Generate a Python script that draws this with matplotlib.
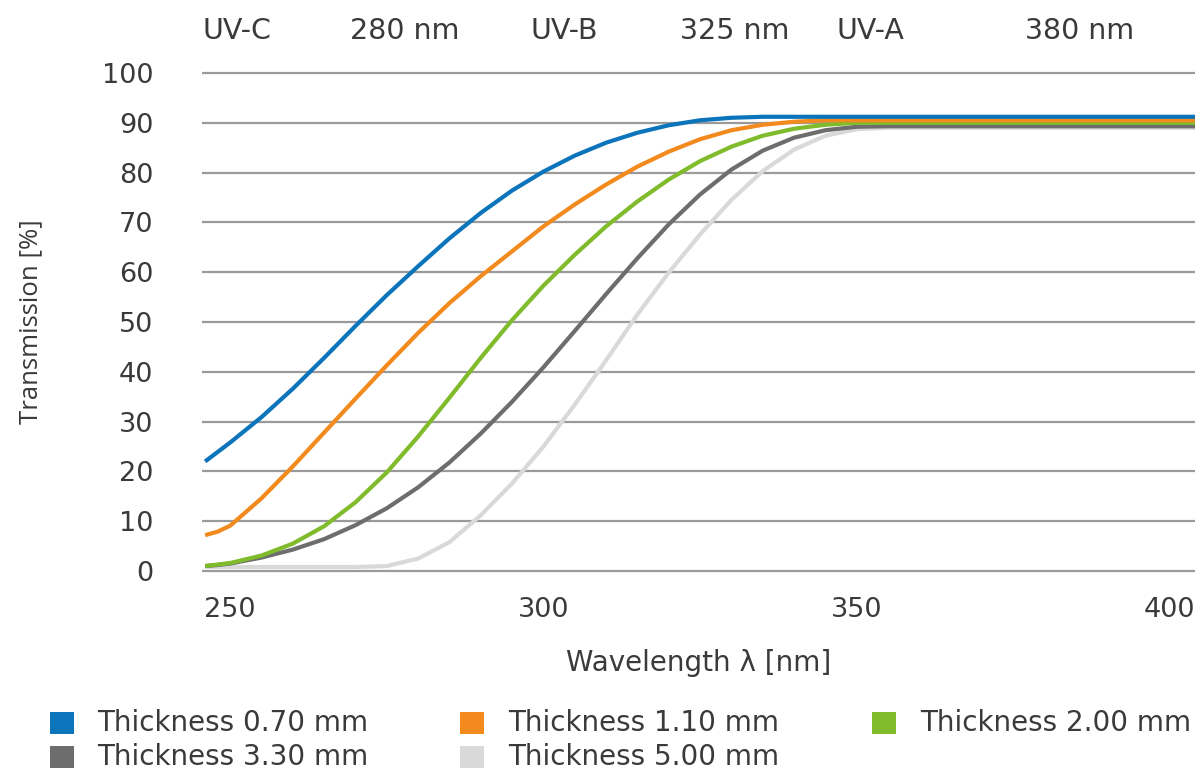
import matplotlib
matplotlib.use("Agg")
import matplotlib.pyplot as plt
import matplotlib.transforms as mtransforms
from matplotlib.patches import Rectangle

plt.rcParams['font.family'] = ['DejaVu Sans']

# ---- data ----
wavelength = [246, 248, 250, 255, 260, 265, 270, 275, 280, 285, 290, 295, 300, 305, 310,
              315, 320, 325, 330, 335, 340, 345, 350, 355, 360, 380, 404]

t_070 = [22.0, 23.9, 25.8, 30.9, 36.6, 42.8, 49.2, 55.4, 61.2, 66.8, 71.9, 76.4, 80.2, 83.4, 86.0,
         88.0, 89.5, 90.5, 91.0, 91.2, 91.2, 91.2, 91.2, 91.2, 91.2, 91.2, 91.2]
t_110 = [7.2, 7.9, 9.1, 14.6, 21.0, 27.8, 34.6, 41.3, 47.8, 53.8, 59.2, 64.2, 69.2, 73.6, 77.6,
         81.2, 84.2, 86.7, 88.5, 89.6, 90.2, 90.5, 90.5, 90.5, 90.5, 90.5, 90.5]
t_200 = [1.0, 1.3, 1.6, 3.1, 5.5, 9.0, 13.8, 19.8, 27.0, 34.8, 42.8, 50.4, 57.3, 63.5, 69.2,
         74.2, 78.6, 82.3, 85.2, 87.4, 88.8, 89.6, 90.0, 90.0, 90.0, 90.0, 90.0]
t_330 = [1.0, 1.2, 1.5, 2.7, 4.3, 6.4, 9.2, 12.6, 16.8, 21.8, 27.6, 34.0, 40.9, 48.2, 55.6,
         62.8, 69.6, 75.6, 80.6, 84.4, 87.0, 88.5, 89.2, 89.3, 89.3, 89.3, 89.3]
t_500 = [0.8, 0.8, 0.8, 0.8, 0.8, 0.8, 0.8, 1.0, 2.5, 5.8, 11.2, 17.6, 25.0, 33.4, 42.3,
         51.5, 59.9, 67.6, 74.5, 80.3, 84.6, 87.4, 88.7, 89.0, 89.0, 89.0, 89.0]

series_labels = ["Thickness 0.70 mm", "Thickness 1.10 mm", "Thickness 2.00 mm",
                 "Thickness 3.30 mm", "Thickness 5.00 mm"]
series_values = [t_070, t_110, t_200, t_330, t_500]
series_colors = ["#0b74bb", "#f28a1e", "#7fbb2b", "#6d6d6d", "#d9d9d9"]

x_ticks = [250, 300, 350, 400]
y_ticks = [0, 10, 20, 30, 40, 50, 60, 70, 80, 90, 100]
band_labels = ["UV-C", "280 nm", "UV-B", "325 nm", "UV-A", "380 nm"]
band_label_x = [251.0, 277.9, 303.3, 330.5, 352.2, 385.6]

text_color = "#3a3a3a"
W, H = 1201, 769

fig = plt.figure(figsize=(W / 100, H / 100), dpi=100)
ax = fig.add_axes([0.1682, 0.2510, 0.8268, 0.6606])

ax.set_xlim(245.5, 404)
ax.set_ylim(-1, 101)

for yt in y_ticks:
    ax.axhline(yt, color="#9a9a9a", lw=1.6, zorder=1)

# lightest first so darker/upper lines sit on top at the plateau
for i in [4, 3, 2, 1, 0]:
    ax.plot(wavelength, series_values[i], color=series_colors[i], lw=3.0,
            solid_capstyle="butt", solid_joinstyle="round", zorder=2 + (4 - i))

for s in ax.spines.values():
    s.set_visible(False)
ax.set_xticks(x_ticks)
ax.set_yticks(y_ticks)
ax.tick_params(length=0, labelsize=19.5, colors=text_color)
ax.tick_params(axis='y', pad=35)
ax.tick_params(axis='x', pad=15)

ax.set_xlabel("Wavelength λ [nm]", fontsize=20, color=text_color, labelpad=19)
ax.set_ylabel("Transmission [%]", fontsize=18.5, color=text_color, labelpad=42,
              family=["Open Sans", "DejaVu Sans"])

band_tr = mtransforms.blended_transform_factory(ax.transData, fig.transFigure)
for lbl, xp in zip(band_labels, band_label_x):
    ax.text(xp, 1 - 31 / H, lbl, transform=band_tr, ha="center", va="center",
            fontsize=20.5, color=text_color)

# legend drawn in figure pixel coordinates: rows 0.70/1.10/2.00 and 3.30/5.00
marker_x = [50, 460, 872]
text_x = [97, 508, 920]
row_y = [723, 757]
for i, (lbl, col) in enumerate(zip(series_labels, series_colors)):
    c, r = i % 3, i // 3
    yc = row_y[r]
    fig.patches.append(Rectangle((marker_x[c] / W, (H - yc - 11) / H), 24 / W, 22 / H,
                                 transform=fig.transFigure, facecolor=col,
                                 edgecolor="none"))
    fig.text(text_x[c] / W, (H - yc) / H, lbl, ha="left", va="center",
             fontsize=20, color=text_color)

fig.savefig("out.png", dpi=100, facecolor="white")
